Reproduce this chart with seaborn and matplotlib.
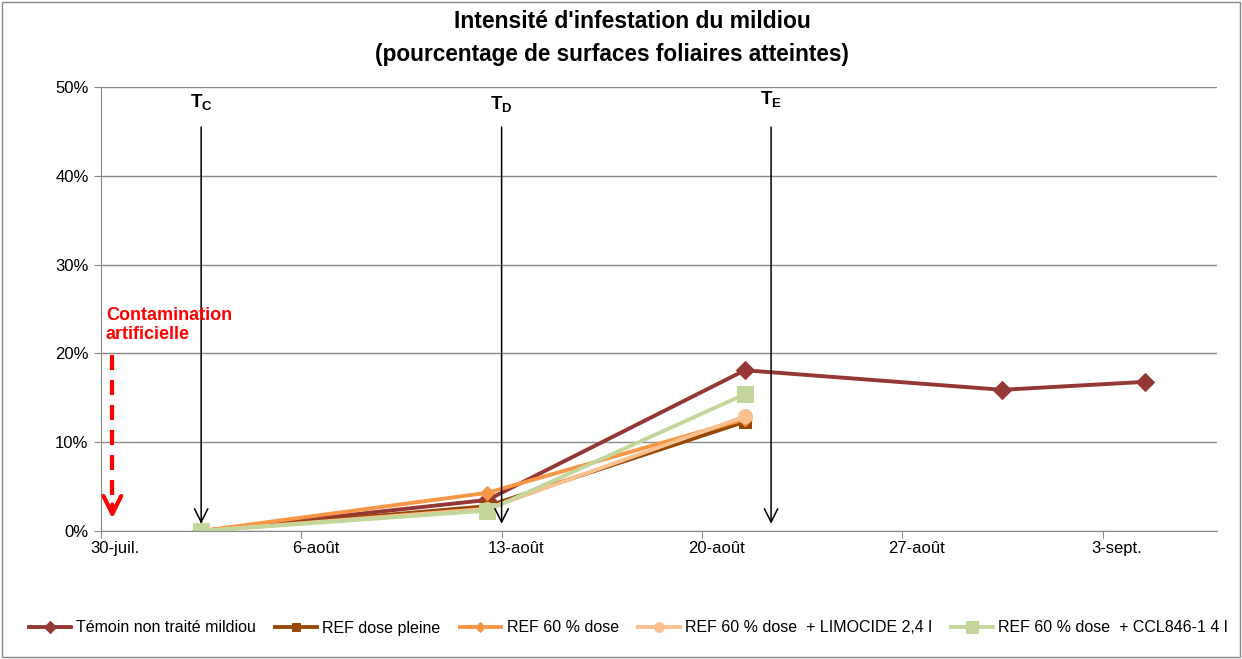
import numpy as np
import pandas as pd
import seaborn as sns
import matplotlib.pyplot as plt
import matplotlib.dates as mdates
from matplotlib.patches import Rectangle

'''
0) data
'''
dates_all = ['2013-08-02', '2013-08-12', '2013-08-21', '2013-08-30', '2013-09-04']
dates_short = ['2013-08-02', '2013-08-12', '2013-08-21']

temoin = [0.0, 3.5, 18.1, 15.9, 16.8]
ref_pleine = [0.0, 2.8, 12.3]
ref_60 = [0.0, 4.3, 12.6]
ref_60_limocide = [0.0, 2.5, 12.9]
ref_60_ccl = [0.0, 2.3, 15.4]

series_names = ['Témoin non traité mildiou', 'REF dose pleine', 'REF 60 % dose',
                'REF 60 % dose  + LIMOCIDE 2,4 l', 'REF 60 % dose  + CCL846-1 4 l']
colors = ['#953735', '#984807', '#F79646', '#FAC090', '#C3D69B']
markers = ['D', 's', 'D', 'o', 's']
msizes = [9, 8, 7, 10, 12]

tick_dates = ['2013-07-30', '2013-08-06', '2013-08-13', '2013-08-20', '2013-08-27', '2013-09-03']
tick_labels = ['30-juil.', '6-août', '13-août', '20-août', '27-août', '3-sept.']
y_ticks = [0, 10, 20, 30, 40, 50]

# treatments (date, label)
treat_dates = ['2013-08-02 12:00', '2013-08-13 00:00', '2013-08-22 10:00']
treat_labels = ['T$_\\mathregular{C}$', 'T$_\\mathregular{D}$', 'T$_\\mathregular{E}$']

'''
1) build a table
'''
rows = []
for name, vals in zip(series_names, [temoin, ref_pleine, ref_60, ref_60_limocide, ref_60_ccl]):
    dd = dates_all if len(vals) == 5 else dates_short
    for d, v in zip(dd, vals):
        # excel date axis puts a day in the middle of its slot
        rows.append({'date': pd.Timestamp(d) + pd.Timedelta(hours=12), 'val': v, 'serie': name})
df = pd.DataFrame(rows)

'''
2) plot
'''
plt.rcParams['font.family'] = ['Liberation Sans', 'DejaVu Sans']
fig = plt.figure(figsize=(12.42, 6.59), dpi=100)
ax = fig.add_axes([101/1242, 1-531/659, (1217-101)/1242, (531-87)/659])

for name, c, m, ms in zip(series_names, colors, markers, msizes):
    sub = df[df.serie == name]
    sns.lineplot(data=sub, x='date', y='val', ax=ax, color=c, marker=m, markersize=ms,
                 markeredgecolor=c, linewidth=2.8, label=name)

ax.set_ylim(0, 50)
ax.set_xlim(pd.Timestamp('2013-07-30'), pd.Timestamp('2013-09-07'))
ax.set_yticks(y_ticks)
ax.set_yticklabels([f'{t}%' for t in y_ticks], fontsize=12)
ax.yaxis.grid(True, color='#898989', linewidth=1)
ax.set_axisbelow(True)

tks = [pd.Timestamp(t) for t in tick_dates]
ax.set_xticks(tks)
ax.set_xticklabels([])
ax.set_xticks([t + pd.Timedelta(hours=12) for t in tks], minor=True)
ax.set_xticklabels(tick_labels, minor=True, fontsize=12)
ax.tick_params(axis='x', which='major', length=5, color='#898989')
ax.tick_params(axis='x', which='minor', length=0, pad=7)
ax.tick_params(axis='y', length=5, color='#898989', pad=4)
ax.set_xlabel('')
ax.set_ylabel('')
for s in ['top', 'right']:
    ax.spines[s].set_visible(False)
for s in ['left', 'bottom']:
    ax.spines[s].set_color('#898989')

# treatment arrows
label_y = [48.2, 48.0, 48.6]
for d, lab, ly in zip(treat_dates, treat_labels, label_y):
    x = mdates.date2num(pd.Timestamp(d))
    ax.annotate('', xy=(x, 0.5), xytext=(x, 45.8),
                arrowprops=dict(arrowstyle='->', color='black', lw=1.1, mutation_scale=24))
    ax.text(x, ly, lab, ha='center', va='center', fontsize=13.5, fontweight='bold')

# contamination
xc = mdates.date2num(pd.Timestamp('2013-07-30 09:30'))
ax.plot([xc, xc], [19.8, 2.4], color='red', lw=3, linestyle=(0, (3.6, 2.4)))
ax.annotate('', xy=(xc, 1.1), xytext=(xc, 3.3),
            arrowprops=dict(arrowstyle='->', color='red', lw=3, mutation_scale=32))
ax.text(mdates.date2num(pd.Timestamp('2013-07-30 04:00')), 25.2, 'Contamination\nartificielle',
        color='red', fontsize=13, fontweight='bold', ha='left', va='top', linespacing=1.15)

fig.text(632/1242, 1-22/659, "Intensité d'infestation du mildiou",
         ha='center', va='center', fontsize=16.5, fontweight='bold')
fig.text(612/1242, 1-55/659, "(pourcentage de surfaces foliaires atteintes)",
         ha='center', va='center', fontsize=16.3, fontweight='bold')

ax.legend(loc='center left', bbox_to_anchor=(29/1242, 1-628/659), bbox_transform=fig.transFigure,
          ncol=5, frameon=False, fontsize=11.5, handlelength=2.6, handletextpad=0.35,
          columnspacing=1.2, borderpad=0, borderaxespad=0, markerscale=0.7)

fig.patches.append(Rectangle((2/1242, 2/659), 1-4/1242, 1-4/659, transform=fig.transFigure,
                             fill=False, edgecolor='#898989', linewidth=1))

plt.savefig('out.png', dpi=100)
